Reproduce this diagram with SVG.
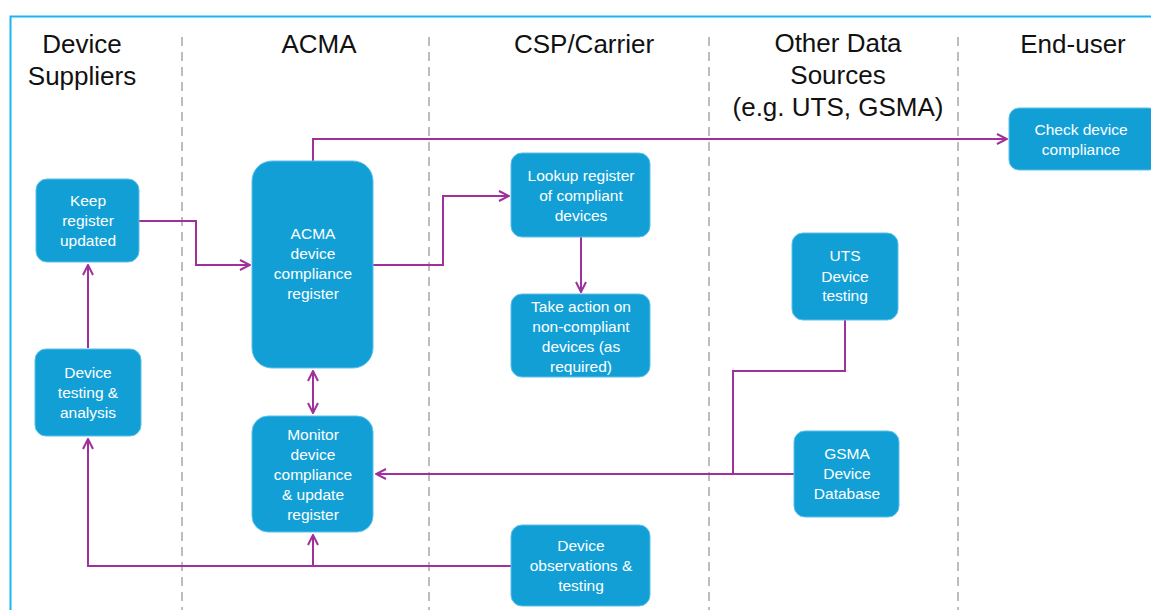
<svg xmlns="http://www.w3.org/2000/svg" width="1151" height="610" viewBox="0 0 1151 610">
<style>
.hdr{font-family:"Liberation Sans",Arial,sans-serif;font-size:26px;fill:#111;text-anchor:middle}
.box{fill:#129FD6;stroke:#5CC1EA;stroke-width:1}
.lbl{font-family:"Liberation Sans",Arial,sans-serif;font-size:15.5px;fill:#fff;text-anchor:middle}
.lane{stroke:#BDBDBD;stroke-width:2;stroke-dasharray:9,6;fill:none}
.cn{stroke:#A0309C;stroke-width:2;fill:none}
</style>
<defs>
<marker id="ah" viewBox="0 0 12 12" refX="11" refY="6" markerWidth="12" markerHeight="12" markerUnits="userSpaceOnUse" orient="auto-start-reverse">
<path d="M1,1 L11,6 L1,11" fill="none" stroke="#A0309C" stroke-width="2"/>
</marker>
</defs>
<rect width="1151" height="610" fill="#fff"/>
<path d="M10.5,610 L10.5,16.5 L1151,16.5" fill="none" stroke="#1AB5EE" stroke-width="2"/>
<g id="lanes">
<line class="lane" x1="182" y1="37" x2="182" y2="610"/>
<line class="lane" x1="429" y1="37" x2="429" y2="610"/>
<line class="lane" x1="709" y1="37" x2="709" y2="610"/>
<line class="lane" x1="958" y1="37" x2="958" y2="610"/>
</g>
<g id="headers">
<text class="hdr" x="82" y="53">Device</text>
<text class="hdr" x="82" y="85">Suppliers</text>
<text class="hdr" x="319" y="53">ACMA</text>
<text class="hdr" x="584" y="53">CSP/Carrier</text>
<text class="hdr" x="838" y="52">Other Data</text>
<text class="hdr" x="838" y="84">Sources</text>
<text class="hdr" x="838" y="116">(e.g. UTS, GSMA)</text>
<text class="hdr" x="1073" y="53">End-user</text>
</g>
<g id="connectors">
<path class="cn" d="M313,161 L313,139 L1007,139" marker-end="url(#ah)"/>
<path class="cn" d="M139,221 L196,221 L196,265 L250,265" marker-end="url(#ah)"/>
<path class="cn" d="M373,265 L443,265 L443,196 L509,196" marker-end="url(#ah)"/>
<path class="cn" d="M581,237 L581,292" marker-end="url(#ah)"/>
<path class="cn" d="M313,371 L313,413" marker-start="url(#ah)" marker-end="url(#ah)"/>
<path class="cn" d="M88,348 L88,265" marker-end="url(#ah)"/>
<path class="cn" d="M511,566 L88,566 L88,439" marker-end="url(#ah)"/>
<path class="cn" d="M313,566 L313,535" marker-end="url(#ah)"/>
<path class="cn" d="M845,320 L845,371 L733,371 L733,474"/>
<path class="cn" d="M794,474 L376,474" marker-end="url(#ah)"/>
</g>
<g id="keep">
<rect class="box" x="36" y="179" width="103" height="83" rx="11"/>
<text class="lbl" x="88" y="206">Keep</text>
<text class="lbl" x="88" y="226">register</text>
<text class="lbl" x="88" y="246">updated</text>
</g>
<g id="testing">
<rect class="box" x="35" y="349" width="106" height="87" rx="11"/>
<text class="lbl" x="88" y="378">Device</text>
<text class="lbl" x="88" y="398">testing &amp;</text>
<text class="lbl" x="88" y="418">analysis</text>
</g>
<g id="register">
<rect class="box" x="252" y="161" width="121" height="207" rx="20"/>
<text class="lbl" x="313" y="239">ACMA</text>
<text class="lbl" x="313" y="259">device</text>
<text class="lbl" x="313" y="279">compliance</text>
<text class="lbl" x="313" y="299">register</text>
</g>
<g id="monitor">
<rect class="box" x="252" y="416" width="121" height="116" rx="16"/>
<text class="lbl" x="313" y="440">Monitor</text>
<text class="lbl" x="313" y="460">device</text>
<text class="lbl" x="313" y="480">compliance</text>
<text class="lbl" x="313" y="500">&amp; update</text>
<text class="lbl" x="313" y="520">register</text>
</g>
<g id="lookup">
<rect class="box" x="511" y="153" width="139" height="84" rx="11"/>
<text class="lbl" x="581" y="181">Lookup register</text>
<text class="lbl" x="581" y="201">of compliant</text>
<text class="lbl" x="581" y="221">devices</text>
</g>
<g id="action">
<rect class="box" x="511" y="294" width="139" height="83" rx="11"/>
<text class="lbl" x="581" y="312">Take action on</text>
<text class="lbl" x="581" y="332">non-compliant</text>
<text class="lbl" x="581" y="352">devices (as</text>
<text class="lbl" x="581" y="372">required)</text>
</g>
<g id="observations">
<rect class="box" x="511" y="525" width="139" height="81" rx="11"/>
<text class="lbl" x="581" y="551">Device</text>
<text class="lbl" x="581" y="571">observations &amp;</text>
<text class="lbl" x="581" y="591">testing</text>
</g>
<g id="uts">
<rect class="box" x="792" y="233" width="106" height="87" rx="11"/>
<text class="lbl" x="845" y="261">UTS</text>
<text class="lbl" x="845" y="282">Device</text>
<text class="lbl" x="845" y="301">testing</text>
</g>
<g id="gsma">
<rect class="box" x="794" y="431" width="105" height="86" rx="11"/>
<text class="lbl" x="847" y="459">GSMA</text>
<text class="lbl" x="847" y="479">Device</text>
<text class="lbl" x="847" y="499">Database</text>
</g>
<g id="check">
<rect class="box" x="1009" y="108" width="150" height="62" rx="10"/>
<text class="lbl" x="1081" y="135">Check device</text>
<text class="lbl" x="1081" y="155">compliance</text>
</g>
</svg>
